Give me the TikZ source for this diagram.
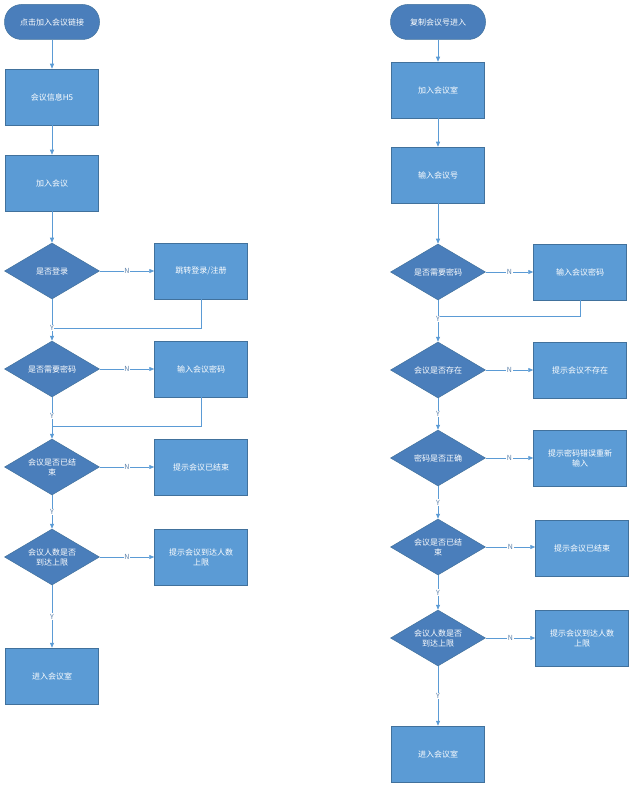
\documentclass[tikz,border=0pt]{standalone}
\usepackage{fontspec}
\setmainfont{Noto Sans CJK SC}
\usetikzlibrary{shapes.geometric,arrows.meta}
\definecolor{boxc}{HTML}{5B9BD5}
\definecolor{boxd}{HTML}{41719C}
\definecolor{dia}{HTML}{4A7EBB}
\definecolor{lab}{HTML}{5A7FA8}
\tikzset{
 x=1pt,y=-1pt,
 base/.style={text=white,font=\fontsize{8}{10}\selectfont,align=center,draw=boxd,line width=0.5pt,inner sep=1pt},
 box/.style={base,fill=boxc,minimum width=93pt,minimum height=56pt,text width=85pt},
 term/.style={base,fill=dia,rounded corners=17pt,minimum width=95pt,minimum height=35pt},
 dec/.style={base,fill=dia,diamond,aspect=1.7,minimum width=95pt,minimum height=56pt,text width=60pt},
 ln/.style={draw=boxc,line width=0.7pt},
 ar/.style={ln,-{Triangle[length=5pt,width=4pt]}},
 lb/.style={font=\fontsize{7}{8}\selectfont,text=lab,fill=white,inner sep=0.5pt}
}
\begin{document}
\begin{tikzpicture}
\useasboundingbox (0,0) rectangle (635,791);
% left
\node[term] (s1) at (52,22) {点击加入会议链接};
\node[box] (a1) at (52,97) {会议信息H5};
\node[box] (a2) at (52,183) {加入会议};
\node[dec,minimum width=95pt,minimum height=56pt,inner sep=0pt] (d1) at (52,271) {};
\node[base,draw=none] at (52,271) {是否登录};
\node[box] (b1) at (201,271) {跳转登录/注册};
\node[dec,inner sep=0pt] (d2) at (52,369) {};
\node[base,draw=none] at (52,369) {是否需要密码};
\node[box] (b2) at (201,369) {输入会议密码};
\node[dec,inner sep=0pt] (d3) at (52,467) {};
\node[base,draw=none] at (52,467) {会议是否已结\\束};
\node[box] (b3) at (201,467) {提示会议已结束};
\node[dec,inner sep=0pt] (d4) at (52,557) {};
\node[base,draw=none] at (52,557) {会议人数是否\\到达上限};
\node[box] (b4) at (201,557) {提示会议到达人数\\上限};
\node[box] (e1) at (52,676) {进入会议室};
\draw[ar] (s1) -- (a1);
\draw[ar] (a1) -- (a2);
\draw[ar] (a2) -- (d1.north);
\draw[ar] (d1.east) -- node[lb]{N} (b1);
\draw[ar] (d2.east) -- node[lb]{N} (b2);
\draw[ar] (d3.east) -- node[lb]{N} (b3);
\draw[ar] (d4.east) -- node[lb]{N} (b4);
\coordinate (j1) at (52,328);
\coordinate (j2) at (52,426);
\draw[ln] (b1.south) |- (j1);
\draw[ln] (b2.south) |- (j2);
\draw[ar] (d1.south) -- node[lb,pos=0.7]{Y} (d2.north);
\draw[ar] (d2.south) -- node[lb,pos=0.45]{Y} (d3.north);
\draw[ar] (d3.south) -- node[lb]{Y} (d4.north);
\draw[ar] (d4.south) -- node[lb]{Y} (e1.north);
% right
\node[term] (s2) at (438,22) {复制会议号进入};
\node[box] (c1) at (438,90) {加入会议室};
\node[box] (c2) at (438,175) {输入会议号};
\node[dec,inner sep=0pt] (f1) at (438,272) {};
\node[base,draw=none] at (438,272) {是否需要密码};
\node[box] (g1) at (580,272) {输入会议密码};
\node[dec,inner sep=0pt] (f2) at (438,370) {};
\node[base,draw=none] at (438,370) {会议是否存在};
\node[box] (g2) at (580,370) {提示会议不存在};
\node[dec,inner sep=0pt] (f3) at (438,458) {};
\node[base,draw=none] at (438,458) {密码是否正确};
\node[box] (g3) at (580,458) {提示密码错误重新\\输入};
\node[dec,inner sep=0pt] (f4) at (438,547) {};
\node[base,draw=none] at (438,547) {会议是否已结\\束};
\node[box] (g4) at (582,548) {提示会议已结束};
\node[dec,inner sep=0pt] (f5) at (438,638) {};
\node[base,draw=none] at (438,638) {会议人数是否\\到达上限};
\node[box] (g5) at (582,638) {提示会议到达人数\\上限};
\node[box] (e2) at (438,754) {进入会议室};
\draw[ar] (s2) -- (c1);
\draw[ar] (c1) -- (c2);
\draw[ar] (c2) -- (f1.north);
\draw[ar] (f1.east) -- node[lb]{N} (g1);
\draw[ar] (f2.east) -- node[lb]{N} (g2);
\draw[ar] (f3.east) -- node[lb]{N} (g3);
\draw[ar] (f4.east) -- node[lb]{N} (g4.west|-f4.east);
\draw[ar] (f5.east) -- node[lb]{N} (g5.west|-f5.east);
\coordinate (k1) at (438,316);
\draw[ln] (g1.south) |- (k1);
\draw[ar] (f1.south) -- node[lb,pos=0.45]{Y} (f2.north);
\draw[ar] (f2.south) -- node[lb]{Y} (f3.north);
\draw[ar] (f3.south) -- node[lb]{Y} (f4.north);
\draw[ar] (f4.south) -- node[lb]{Y} (f5.north);
\draw[ar] (f5.south) -- node[lb]{Y} (e2.north);
\end{tikzpicture}
\end{document}
